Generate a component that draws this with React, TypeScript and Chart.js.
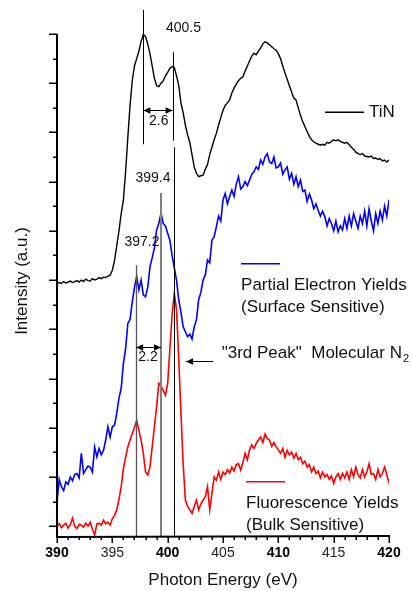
import React, { useEffect, useRef } from 'react';
import { Chart, registerables } from 'chart.js';

Chart.register(...registerables);

// Photon energy grid (eV)
const ENERGY_START = 390;
const ENERGY_STEP = 0.2;
const xTicks = [390, 395, 400, 405, 410, 415, 420];
const boldTicks = [390, 400, 410, 420];

// TiN reference spectrum (offset, a.u.)
const tinValues = [
  4.92, 4.95, 4.93, 4.97, 4.94, 4.96, 4.98, 4.95, 4.97, 4.99,
  4.96, 5.0, 4.97, 5.02, 4.99, 4.98, 5.03, 5.0, 5.02, 5.05,
  5.03, 5.06, 5.05, 5.08, 5.1, 5.2, 5.4, 5.7, 6.0, 6.35,
  6.63, 7.2, 7.9, 8.55, 9.05, 9.35, 9.5, 9.65, 9.85, 9.99,
  9.95, 9.8, 9.6, 9.35, 9.1, 8.95, 8.93, 9.0, 9.05, 9.15,
  9.22, 9.3, 9.34, 9.32, 9.15, 8.95, 8.6, 8.4, 8.15, 7.95,
  7.8, 7.55, 7.3, 7.17, 7.1, 7.12, 7.13, 7.25, 7.35, 7.55,
  7.7, 7.85, 7.98, 8.15, 8.3, 8.45, 8.55, 8.6, 8.66, 8.8,
  8.9, 8.98, 9.05, 9.1, 9.13, 9.25, 9.35, 9.45, 9.55, 9.61,
  9.58, 9.65, 9.72, 9.8, 9.84, 9.82, 9.78, 9.74, 9.7, 9.67,
  9.6, 9.5, 9.35, 9.21, 9.08, 8.95, 8.82, 8.7, 8.66, 8.5,
  8.35, 8.22, 8.12, 8.02, 7.92, 7.85, 7.81, 7.78, 7.76, 7.74,
  7.76, 7.74, 7.8, 7.78, 7.82, 7.85, 7.83, 7.85, 7.82, 7.8,
  7.78, 7.8, 7.75, 7.7, 7.66, 7.6, 7.57, 7.55, 7.57, 7.52,
  7.51, 7.5, 7.52, 7.47, 7.48, 7.45, 7.47, 7.42, 7.44, 7.4,
  7.44,
];

// Partial Electron Yields (surface sensitive)
const peyValues = [
  0.49, 0.95, 0.8, 0.72, 0.9, 0.85, 1.0, 0.92, 1.05, 1.07,
  0.98, 1.48, 1.07, 1.15, 1.22, 1.2, 1.1, 1.61, 1.41, 1.58,
  1.45, 1.54, 1.75, 2.02, 1.81, 2.02, 2.05, 2.29, 2.6, 2.8,
  3.31, 3.6, 4.12, 4.2, 4.55, 4.85, 5.07, 4.8, 5.0, 4.7,
  4.66, 4.85, 5.27, 5.45, 5.65, 6.02, 6.15, 6.36, 6.15, 6.1,
  5.95, 5.81, 5.5, 5.25, 5.0, 4.6, 4.35, 4.05, 3.95, 3.85,
  3.9, 3.8, 4.05, 4.19, 4.6, 4.75, 5.0, 5.1, 5.41, 5.35,
  5.81, 5.88, 6.08, 6.3, 6.2, 6.63, 6.76, 6.55, 6.7, 6.83,
  6.7, 6.95, 7.1, 6.85, 6.9, 7.0, 6.92, 7.03, 7.15, 7.2,
  7.3, 7.25, 7.44, 7.35, 7.5, 7.57, 7.4, 7.37, 7.5, 7.28,
  7.3, 7.38, 7.15, 7.24, 7.3, 7.05, 7.17, 6.95, 7.1, 6.9,
  7.03, 6.8, 6.83, 6.6, 6.75, 6.63, 6.45, 6.55, 6.42, 6.3,
  6.4, 6.29, 6.1, 6.25, 6.15, 6.0, 6.2, 5.98, 6.1, 6.02,
  6.25, 6.05, 6.3, 6.1, 6.35, 6.2, 6.05, 6.3, 6.15, 6.4,
  6.1, 6.45, 6.2, 6.0, 6.35, 6.15, 6.4, 6.22, 6.5, 6.3,
  6.63,
];

// Fluorescence Yields (bulk sensitive)
const fyValues = [
  0.0, 0.05, -0.03, 0.02, 0.06, -0.04, 0.03, 0.16, 0.0, -0.05,
  0.04, 0.02, -0.02, 0.06, 0.0, 0.08, -0.06, -0.18, 0.04, 0.06,
  0.02, 0.12, 0.05, 0.08, 0.02, 0.15, 0.22, 0.33, 0.55, 0.8,
  1.17, 1.4, 1.61, 1.75, 1.88, 2.0, 2.15, 1.95, 1.75, 1.48,
  1.1, 1.04, 1.2, 1.6, 2.02, 2.42, 2.9, 2.85, 2.76, 2.66,
  2.9, 3.6, 4.3, 4.73, 4.4, 3.4, 2.3, 1.27, 0.53, 0.4,
  0.33, 0.26, 0.4, 0.53, 0.33, 0.45, 0.53, 0.6, 0.8, 0.33,
  0.66, 1.0, 0.93, 1.1, 0.95, 1.1, 1.05, 1.15, 1.08, 1.2,
  1.12, 1.25, 1.27, 1.14, 1.3, 1.48, 1.35, 1.55, 1.65, 1.58,
  1.68, 1.75, 1.81, 1.7, 1.87, 1.78, 1.75, 1.62, 1.7, 1.61,
  1.55, 1.48, 1.58, 1.4, 1.54, 1.45, 1.5, 1.38, 1.48, 1.35,
  1.4, 1.27, 1.32, 1.2, 1.25, 1.1, 1.2, 1.07, 1.12, 0.98,
  1.1, 1.0, 1.05, 0.95, 1.02, 0.87, 1.0, 1.07, 0.95, 1.07,
  0.98, 1.1, 0.95, 1.15, 1.0, 1.2, 1.05, 0.98, 1.15, 1.0,
  1.1, 1.27, 1.05, 1.07, 0.95, 1.15, 1.0, 1.07, 1.2, 1.05,
  0.87,
];

// Peak marker energies (eV)
const peakEnergies = [397.8, 400.45, 400.6, 399.4, 397.15];

const FONT = '"Liberation Sans", Arial, Helvetica, sans-serif';

function toPoints(values: number[]) {
  return values.map((v, i) => ({ x: ENERGY_START + i * ENERGY_STEP, y: v }));
}

function arrowHead(ctx: CanvasRenderingContext2D, x: number, y: number, dir: number) {
  ctx.beginPath();
  ctx.moveTo(x, y);
  ctx.lineTo(x - dir * 7, y - 3.2);
  ctx.lineTo(x - dir * 7, y + 3.2);
  ctx.closePath();
  ctx.fill();
}

const decorPlugin = {
  id: 'decor',
  afterDatasetsDraw(chart: any) {
    const ctx: CanvasRenderingContext2D = chart.ctx;
    const xs = chart.scales.x;
    const ys = chart.scales.y;
    const X = (v: number) => xs.getPixelForValue(v);
    const Y = (v: number) => ys.getPixelForValue(v);
    const area = chart.chartArea;
    ctx.save();

    // vertical peak markers
    const vline = (e: number, y1: number, y2: number, color: string, w: number) => {
      ctx.strokeStyle = color;
      ctx.lineWidth = w;
      ctx.beginPath();
      ctx.moveTo(Math.round(X(e)) + (w % 2 ? 0.5 : 0), Y(y1));
      ctx.lineTo(Math.round(X(e)) + (w % 2 ? 0.5 : 0), Y(y2));
      ctx.stroke();
    };
    vline(peakEnergies[0], 10.49, 7.76, '#000', 1);
    vline(peakEnergies[1], 9.63, 7.83, '#000', 1);
    vline(peakEnergies[2], 7.7, -0.2, '#000', 1);
    vline(peakEnergies[3], 6.77, -0.2, '#808080', 2);
    vline(peakEnergies[4], 5.3, -0.2, '#555555', 1.3);

    // dimension arrows
    ctx.fillStyle = '#000';
    ctx.strokeStyle = '#000';
    ctx.lineWidth = 1;
    const dimArrow = (e1: number, e2: number, v: number) => {
      const x1 = X(e1), x2 = X(e2), y = Math.round(Y(v)) + 0.5;
      ctx.beginPath();
      ctx.moveTo(x1, y);
      ctx.lineTo(x2, y);
      ctx.stroke();
      arrowHead(ctx, x1, y, -1);
      arrowHead(ctx, x2, y, 1);
    };
    dimArrow(peakEnergies[0], peakEnergies[1], 8.46);
    dimArrow(peakEnergies[4], peakEnergies[3], 3.64);

    // left arrow to third peak
    {
      const y = Math.round(Y(3.35)) + 0.5;
      const x1 = X(404.1), x2 = X(401.66);
      ctx.beginPath();
      ctx.moveTo(x1, y);
      ctx.lineTo(x2, y);
      ctx.stroke();
      arrowHead(ctx, x2, y, -1);
    }

    // annotation texts
    ctx.fillStyle = '#111';
    ctx.textBaseline = 'middle';
    ctx.textAlign = 'center';
    ctx.font = `14px ${FONT}`;
    ctx.fillText('400.5', X(401.43), Y(10.12));
    ctx.fillText('2.6', X(399.2), Y(8.22));
    ctx.fillText('399.4', X(398.67), Y(7.07));
    ctx.fillText('397.2', X(397.68), Y(5.77));
    ctx.fillText('2.2', X(398.22), Y(3.43));

    ctx.textAlign = 'left';
    ctx.font = `17px ${FONT}`;
    const t = '"3rd Peak"  Molecular N';
    const tx = X(404.88), ty = Y(3.51);
    ctx.fillText(t, tx, ty);
    const tw = ctx.measureText(t).width;
    ctx.font = `11px ${FONT}`;
    ctx.fillText('2', tx + tw + 1, ty + 6);

    // legend
    const legendLine = (e1: number, e2: number, v: number, color: string) => {
      ctx.strokeStyle = color;
      ctx.lineWidth = 1.5;
      ctx.beginPath();
      ctx.moveTo(X(e1), Y(v));
      ctx.lineTo(X(e2), Y(v));
      ctx.stroke();
    };
    ctx.font = `17px ${FONT}`;
    ctx.fillStyle = '#111';
    legendLine(414.22, 417.74, 8.41, '#000');
    ctx.fillText('TiN', X(418.2), Y(8.41));
    legendLine(406.63, 410.15, 5.33, '#0000ff');
    ctx.fillText('Partial Electron Yields', X(406.63), Y(4.9));
    ctx.fillText('(Surface Sensitive)', X(406.63), Y(4.45));
    legendLine(407.08, 410.6, 0.9, '#ff0000');
    ctx.fillText('Fluorescence Yields', X(407.08), Y(0.47));
    ctx.fillText('(Bulk Sensitive)', X(407.08), Y(0.02));

    // axes
    ctx.strokeStyle = '#000';
    ctx.fillStyle = '#000';
    ctx.lineWidth = 2;
    const ax = Math.round(area.left);
    const ay = Math.round(area.bottom);
    ctx.beginPath();
    ctx.moveTo(ax, Math.round(area.top));
    ctx.lineTo(ax, ay + 1);
    ctx.lineTo(Math.round(area.right) + 1, ay);
    ctx.stroke();

    ctx.lineWidth = 1.5;
    // y ticks (outward, left)
    for (let k = 0; k <= 20; k++) {
      const v = k * 0.5;
      const major = k % 2 === 0;
      const py = Math.round(Y(v)) + 0.25;
      ctx.beginPath();
      ctx.moveTo(ax, py);
      ctx.lineTo(ax - (major ? 8 : 4), py);
      ctx.stroke();
    }
    // x ticks (outward, down)
    for (let e = 390; e <= 420; e++) {
      const major = e % 5 === 0;
      const px = Math.round(X(e)) + 0.25;
      ctx.beginPath();
      ctx.moveTo(px, ay);
      ctx.lineTo(px, ay + (major ? 7 : 4));
      ctx.stroke();
    }
    // x tick labels
    ctx.textAlign = 'center';
    ctx.textBaseline = 'middle';
    xTicks.forEach((e) => {
      const bold = boldTicks.includes(e);
      ctx.font = `${bold ? 'bold ' : ''}14px ${FONT}`;
      ctx.fillStyle = bold ? '#000' : '#222';
      ctx.fillText(String(e), X(e), ay + 17);
    });

    // axis titles
    ctx.fillStyle = '#111';
    ctx.font = `17px ${FONT}`;
    ctx.fillText('Photon Energy (eV)', 223, 580);
    ctx.save();
    ctx.translate(22, 281);
    ctx.rotate(-Math.PI / 2);
    ctx.fillText('Intensity (a.u.)', 0, 0);
    ctx.restore();

    ctx.restore();
  },
};

export default function App() {
  const canvasRef = useRef<HTMLCanvasElement | null>(null);

  useEffect(() => {
    if (!canvasRef.current) return;
    const chart = new Chart(canvasRef.current, {
      type: 'line',
      data: {
        datasets: [
          {
            label: 'TiN',
            data: toPoints(tinValues),
            borderColor: '#000000',
            borderWidth: 1.4,
            pointRadius: 0,
            tension: 0,
            fill: false,
          },
          {
            label: 'Partial Electron Yields',
            data: toPoints(peyValues),
            borderColor: '#0000ff',
            borderWidth: 1.6,
            pointRadius: 0,
            tension: 0,
            fill: false,
          },
          {
            label: 'Fluorescence Yields',
            data: toPoints(fyValues),
            borderColor: '#ff0000',
            borderWidth: 1.6,
            pointRadius: 0,
            tension: 0,
            fill: false,
          },
        ],
      },
      options: {
        responsive: false,
        animation: false,
        parsing: true as any,
        layout: { padding: { left: 57, right: 23, top: 34, bottom: 55 } },
        plugins: { legend: { display: false }, tooltip: { enabled: false } },
        scales: {
          x: { type: 'linear', min: 390, max: 420, display: false },
          y: { type: 'linear', min: -0.2, max: 10, display: false },
        },
      },
      plugins: [decorPlugin],
    });
    return () => chart.destroy();
  }, []);

  return (
    <div style={{ position: 'fixed', left: 0, top: 0, width: 412, height: 591, background: '#fff' }}>
      <canvas ref={canvasRef} width={412} height={591} style={{ display: 'block' }} />
    </div>
  );
}
